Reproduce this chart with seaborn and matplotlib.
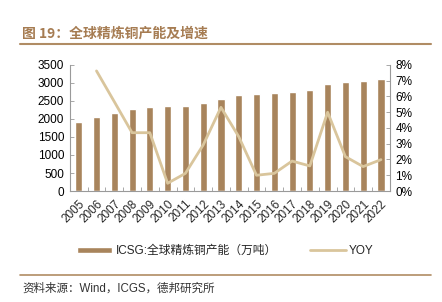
import matplotlib
matplotlib.use("Agg")
import matplotlib.pyplot as plt
import matplotlib.ticker as mticker
import seaborn as sns
import pandas as pd
import numpy as np

years = [str(y) for y in range(2005, 2023)]
capacity = [1908, 2064, 2167, 2269, 2324, 2361, 2361, 2435, 2556, 2658,
            2694, 2722, 2750, 2815, 2963, 3019, 3056, 3111]
yoy = [np.nan, 7.62, 5.67, 3.70, 3.70, 0.49, 1.12, 2.92, 5.31, 3.45,
       1.00, 1.12, 1.90, 1.59, 5.00, 2.18, 1.55, 1.99]

title_text = "图 19：全球精炼铜产能及增速"
bar_label = "ICSG:全球精炼铜产能（万吨）"
line_label = "YOY"
source_text = "资料来源：Wind，ICGS，德邦研究所"

sns.set_theme(style="white")
plt.rcParams['font.family'] = ['Liberation Sans', 'Noto Sans CJK SC', 'DejaVu Sans']

bar_color = "#a8845c"
line_color = "#d9c59c"
spine_color = "#9a9a9a"
title_color = "#a67c52"

df = pd.DataFrame({"year": years, "capacity": capacity, "yoy": yoy})

fig = plt.figure(figsize=(4.42, 3.02), dpi=100)
ax = fig.add_axes([0.158, 0.3675, 0.724, 0.4175])

sns.barplot(data=df, x="year", y="capacity", color=bar_color, width=0.4,
            saturation=1, ax=ax, label=bar_label)
ax.set_xlim(-0.5, len(years) - 0.5)
ax.set_ylim(0, 3500)
ax.set_yticks(np.arange(0, 3501, 500))
ax.set_xlabel("")
ax.set_ylabel("")

ax2 = ax.twinx()
x_pos = np.arange(len(years))
sns.lineplot(x=x_pos, y=df["yoy"], color=line_color, linewidth=2, ax=ax2,
             label=line_label, legend=False)
ax2.set_ylim(0, 8)
ax2.set_yticks(np.arange(0, 9, 1))
ax2.yaxis.set_major_formatter(mticker.FuncFormatter(lambda v, p: f"{int(v)}%"))
ax2.set_ylabel("")
ax2.set_xlim(-0.5, len(years) - 0.5)

for a in (ax, ax2):
    for s in a.spines.values():
        s.set_visible(False)
ax.spines['left'].set_visible(True)
ax.spines['bottom'].set_visible(True)
ax2.spines['right'].set_visible(True)
for s in (ax.spines['left'], ax.spines['bottom'], ax2.spines['right']):
    s.set_color(spine_color)
    s.set_linewidth(0.8)

ax.tick_params(axis='y', direction='in', length=3, width=0.6, color=spine_color,
               labelsize=8.5, labelcolor='black', pad=4, left=True)
ax2.tick_params(axis='y', direction='in', length=3, width=0.6, color=spine_color,
                labelsize=8.5, labelcolor='black', pad=4, right=True)
ax.set_xticks(x_pos)
ax.set_xticklabels(years, rotation=45, ha='right', rotation_mode='anchor', fontsize=8.5)
ax.tick_params(axis='x', which='major', length=0, pad=5)
ax.set_xticks(np.arange(-0.5, len(years), 1), minor=True)
ax.tick_params(axis='x', which='minor', direction='in', length=3, width=0.6,
               color=spine_color, bottom=True)

# legend
h1, l1 = ax.get_legend_handles_labels()
h2, l2 = ax2.get_legend_handles_labels()
if ax.get_legend() is not None:
    ax.get_legend().remove()
if ax2.get_legend() is not None:
    ax2.get_legend().remove()
leg = fig.legend(h1 + h2, l1 + l2, loc='center', bbox_to_anchor=(0.51, 0.168),
                 ncol=2, frameon=False, fontsize=8.5, handlelength=3.0,
                 handleheight=0.5, columnspacing=2.8, handletextpad=0.3)

# title and decoration
fig.text(0.05, 0.89, title_text, fontsize=10, fontweight='bold', color=title_color,
         family=['Noto Sans CJK SC'], va='center')
fig.add_artist(plt.Line2D([0.045, 0.975], [0.854, 0.854], color="#b08c64", lw=1.5,
                          transform=fig.transFigure))
fig.add_artist(plt.Line2D([0.045, 0.975], [0.089, 0.089], color="#b08c64", lw=1.2,
                          transform=fig.transFigure))
fig.text(0.05, 0.043, source_text, fontsize=8.3, color='#333333', va='center')

fig.savefig("out.png", dpi=100, facecolor='white')
